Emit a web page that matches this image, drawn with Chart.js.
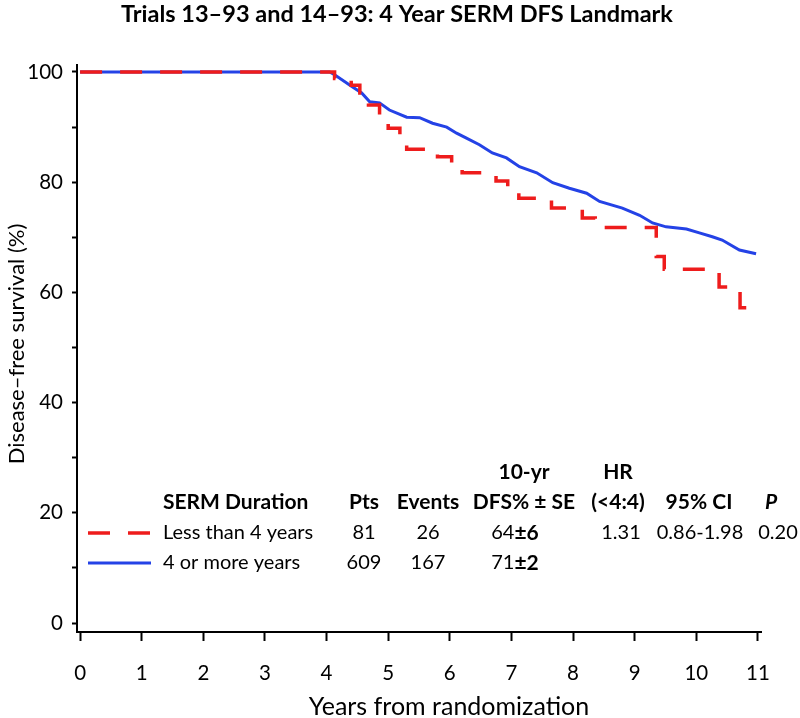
<!DOCTYPE html>
<html><head><meta charset="utf-8">
<script src="https://cdn.jsdelivr.net/npm/chart.js@4.4.0/dist/chart.umd.min.js"></script>
<style>html,body{margin:0;padding:0;background:#fff;}#wrap{position:relative;width:800px;height:718px;}</style>
</head><body><div id="wrap"><canvas id="c" width="800" height="718"></canvas></div>
<script>
const FONT = "Lato, 'Open Sans', sans-serif";
const chartTitle = "Trials 13–93 and 14–93: 4 Year SERM DFS Landmark";
const xAxisTitle = "Years from randomization";
const yAxisTitle = "Disease–free survival (%)";
const xTickValues = [0,1,2,3,4,5,6,7,8,9,10,11];
const yTickValues = [0,10,20,30,40,50,60,70,80,90,100];
const yLabelledTicks = [0,20,40,60,80,100];

const seriesNames = ["Less than 4 years", "4 or more years"];
// Less than 4 years (red dashed) — time of each step, survival after step
const lessYears = [0,4.13,4.40,4.54,4.68,4.86,5.00,5.19,5.30,5.80,6.03,6.20,6.75,6.94,7.12,7.65,8.15,8.36,9.35,9.48,10.37,10.71,11.0];
const lessSurv  = [100,98.8,97.6,96.2,94.0,91.8,89.8,88.6,86.0,84.6,83.1,81.7,80.2,78.6,77.1,75.3,73.5,71.8,66.5,64.2,61.0,57.2,57.2];
// 4 or more years (blue solid)
const moreYears = [0,4.05,4.13,4.38,4.57,4.70,4.86,5.02,5.30,5.51,5.72,5.95,6.11,6.27,6.48,6.69,6.92,7.13,7.41,7.67,7.94,8.22,8.43,8.80,9.08,9.29,9.51,9.84,10.05,10.26,10.42,10.70,10.97];
const moreSurv  = [100,100,99.5,97.6,96.2,94.6,94.4,93.1,91.8,91.7,90.7,90.0,88.9,88.0,86.8,85.3,84.4,82.8,81.7,79.9,78.9,78.0,76.5,75.3,74.0,72.6,71.9,71.5,70.8,70.1,69.5,67.7,67.0];

// summary table
const headerTop = ["", "", "", "10-yr", "HR", "", ""];
const headerBottom = ["SERM Duration", "Pts", "Events", "DFS% ± SE", "(<4:4)", "95% CI", "P"];
const patients = ["81", "609"];
const events = ["26", "167"];
const dfs10 = ["64", "71"];
const dfs10SE = ["±6", "±2"];
const hazardRatio = ["1.31", ""];
const ci95 = ["0.86-1.98", ""];
const pValue = ["0.20", ""];

const RED = '#ee1c1c', BLUE = '#2442e6';

const data = {
  datasets: [
    { label: seriesNames[0], data: lessYears.map((x,i)=>({x, y: lessSurv[i]})),
      borderColor: RED, borderWidth: 3.5, borderDash: [22,18], stepped: true, pointRadius: 0, fill:false },
    { label: seriesNames[1], data: moreYears.map((x,i)=>({x, y: moreSurv[i]})),
      borderColor: BLUE, borderWidth: 3, stepped: false, tension: 0, pointRadius: 0, fill:false }
  ]
};

function textW(ctx, t, f){ ctx.font = f; return ctx.measureText(t).width; }

const overlay = {
  id: 'overlay',
  afterDraw(chart){
    const ctx = chart.ctx;
    ctx.save();
    ctx.fillStyle = '#000';
    ctx.textBaseline = 'middle';
    ctx.textAlign = 'center';
    ctx.font = `bold 23.5px ${FONT}`;
    ctx.fillText(chartTitle, 397, 14);
    ctx.font = `25px ${FONT}`;
    ctx.fillText(xAxisTitle, 449, 707);
    ctx.save();
    ctx.translate(17, 344);
    ctx.rotate(-Math.PI/2);
    ctx.font = `22px ${FONT}`;
    ctx.fillText(yAxisTitle, 0, 0);
    ctx.restore();

    const B = `bold 21px ${FONT}`, R = `20px ${FONT}`;
    const hCenters = [null, 364, 428, 524, 618, 699, 771];
    const y1 = 472, y2 = 502, r1 = 533, r2 = 563;
    ctx.font = B;
    headerTop.forEach((t,i)=>{ if(t) ctx.fillText(t, hCenters[i], y1); });
    headerBottom.forEach((t,i)=>{
      if(i===0){ ctx.textAlign='left'; ctx.fillText(t, 163, y2); ctx.textAlign='center'; }
      else if(i===6){ ctx.font = `italic bold 21px ${FONT}`; ctx.fillText(t, hCenters[i], y2); ctx.font = B; }
      else ctx.fillText(t, hCenters[i], y2);
    });
    [r1, r2].forEach((ry, k)=>{
      const ds = chart.data.datasets[k];
      ctx.save();
      ctx.strokeStyle = ds.borderColor; ctx.lineWidth = ds.borderWidth;
      ctx.setLineDash(ds.borderDash || []);
      ctx.beginPath(); ctx.moveTo(88, ry); ctx.lineTo(151, ry); ctx.stroke();
      ctx.restore();
      ctx.font = R; ctx.textAlign='left'; ctx.fillText(seriesNames[k], 163, ry);
      ctx.textAlign='center';
      ctx.fillText(patients[k], 364, ry);
      ctx.fillText(events[k], 428, ry);
      const wa = textW(ctx, dfs10[k], R), wb = textW(ctx, dfs10SE[k], B);
      const sx = 515 - (wa+wb)/2;
      ctx.textAlign='left';
      ctx.font = R; ctx.fillText(dfs10[k], sx, ry);
      ctx.font = B; ctx.fillText(dfs10SE[k], sx+wa, ry);
      ctx.font = R; ctx.textAlign='center';
      if(hazardRatio[k]) ctx.fillText(hazardRatio[k], 621, ry);
      if(ci95[k]) ctx.fillText(ci95[k], 700, ry);
      if(pValue[k]) ctx.fillText(pValue[k], 778, ry);
    });
    ctx.restore();
  }
};

new Chart(document.getElementById('c'), {
  type: 'line',
  data,
  options: {
    responsive: false, animation: false, devicePixelRatio: 1,
    layout: { padding: { top: 65, right: 39, left: 0, bottom: 0 } },
    plugins: { legend: { display: false }, title: { display: false }, tooltip: { enabled: false } },
    scales: {
      x: {
        type: 'linear', min: -0.05, max: 11.05,
        afterBuildTicks: s => { s.ticks = xTickValues.map(v=>({value:v})); },
        afterFit: s => { s.height = 86; },
        ticks: { autoSkip: false, color: '#000', font: { family: FONT, size: 20.5 }, padding: 20, maxRotation: 0,
                 callback: v => String(v) },
        grid: { drawOnChartArea: false, drawTicks: true, tickLength: 9, tickWidth: 2, tickColor: '#000' },
        border: { display: true, color: '#000', width: 2 }
      },
      y: {
        type: 'linear', min: -1.63, max: 101.27,
        afterBuildTicks: s => { s.ticks = yTickValues.map(v=>({value:v})); },
        afterFit: s => { s.width = 77; },
        ticks: { autoSkip: false, color: '#000', font: { family: FONT, size: 20.5 }, padding: 9,
                 callback: v => yLabelledTicks.includes(v) ? String(v) : '' },
        grid: { drawOnChartArea: false, drawTicks: true, tickLength: 5, tickWidth: 2, tickColor: '#000' },
        border: { display: true, color: '#000', width: 2 }
      }
    }
  },
  plugins: [overlay]
});
</script></body></html>
